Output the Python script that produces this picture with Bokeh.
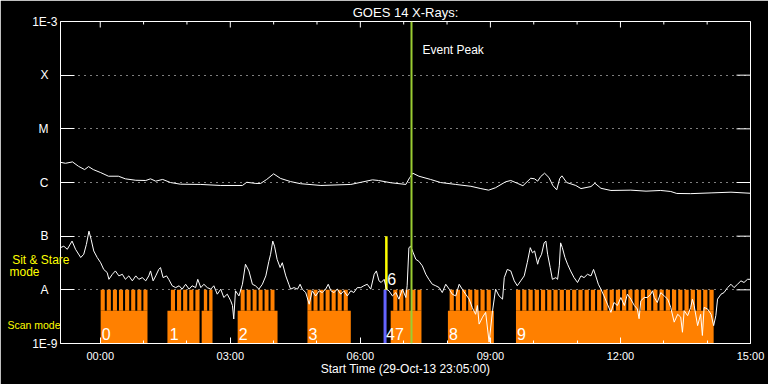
import math
from bokeh.plotting import figure
from bokeh.models import (Range1d, LinearAxis, LogAxis, FixedTicker, Span, Label,
                          LabelSet, ColumnDataSource, Grid)
from bokeh.core.properties import value
from bokeh.embed import file_html
from bokeh.resources import INLINE

# ---------------- data ----------------
# time axis: hours relative to 30-Oct-13 00:00 (plot starts 29-Oct-13 23:05)
hour_ticks = [0, 3, 6, 9, 12, 15]
hour_labels = ["00:00", "03:00", "06:00", "09:00", "12:00", "15:00"]
hour_minor = [1, 2, 4, 5, 7, 8, 10, 11, 13, 14]

class_ticks = [1e-8, 1e-7, 1e-6, 1e-5, 1e-4]
class_labels = ["A", "B", "C", "M", "X"]
edge_ticks = [1e-9, 1e-3]
edge_labels = ["1E-9", "1E-3"]

# GOES 14 long channel (1-8 A), W/m^2
t_long = [-0.92, -0.80, -0.64, -0.50, -0.36, -0.27, -0.16, 0.01, 0.19, 0.42,
          0.58, 0.82, 1.05, 1.16, 1.28, 1.44, 1.62, 1.85, 2.32, 2.78,
          3.28, 3.38, 3.59, 3.70, 3.84, 4.00, 4.16, 4.39, 4.62, 5.09,
          5.78, 6.28, 6.42, 6.70, 7.05, 7.14, 7.21, 7.35, 7.62, 7.85,
          8.20, 8.55, 8.78, 8.96, 9.12, 9.35, 9.47, 9.63, 9.75, 9.93,
          10.02, 10.09, 10.16, 10.25, 10.35, 10.44, 10.53, 10.60, 10.65, 10.76,
          10.97, 11.09, 11.32, 11.41, 11.55, 11.78, 12.24, 12.59, 12.93, 13.16,
          13.30, 13.62, 14.09, 14.55, 15.00]
f_long = [2.38e-6, 2.28e-6, 2.42e-6, 2.00e-6, 1.74e-6, 1.98e-6, 1.74e-6, 1.53e-6, 1.31e-6, 1.31e-6,
          1.17e-6, 1.10e-6, 1.09e-6, 1.17e-6, 1.06e-6, 1.14e-6, 1.00e-6, 9.3e-7, 9.2e-7, 8.8e-7,
          8.8e-7, 1.01e-6, 9.6e-7, 9.6e-7, 1.14e-6, 1.45e-6, 1.19e-6, 1.04e-6, 9.5e-7, 8.8e-7,
          9.2e-7, 1.12e-6, 1.09e-6, 9.9e-7, 9.2e-7, 1.24e-6, 1.49e-6, 1.31e-6, 1.14e-6, 1.00e-6,
          9.2e-7, 8.5e-7, 7.7e-7, 7.2e-7, 8.0e-7, 1.03e-6, 1.09e-6, 9.6e-7, 8.7e-7, 1.20e-6,
          1.17e-6, 1.06e-6, 1.29e-6, 1.49e-6, 1.24e-6, 8.8e-7, 7.3e-7, 1.19e-6, 1.33e-6, 1.00e-6,
          8.8e-7, 7.7e-7, 8.4e-7, 9.7e-7, 7.8e-7, 7.1e-7, 7.2e-7, 6.9e-7, 7.1e-7, 6.8e-7,
          6.25e-7, 6.2e-7, 6.4e-7, 6.6e-7, 6.3e-7]

# GOES 14 short channel (0.5-4 A), W/m^2
t_short = [-0.92, -0.84, -0.76, -0.65, -0.57, -0.45, -0.38, -0.32, -0.26, -0.21,
           -0.15, -0.07, 0.01, 0.08, 0.16, 0.20, 0.28, 0.35, 0.43, 0.51,
           0.58, 0.66, 0.74, 0.82, 0.89, 0.97, 1.05, 1.12, 1.16, 1.22,
           1.28, 1.35, 1.39, 1.45, 1.53, 1.58, 1.66, 1.74, 1.82, 1.89,
           1.97, 2.05, 2.12, 2.20, 2.25, 2.32, 2.39, 2.47, 2.55, 2.62,
           2.70, 2.78, 2.85, 2.93, 3.01, 3.05, 3.08, 3.12, 3.20, 3.28,
           3.35, 3.43, 3.51, 3.58, 3.66, 3.74, 3.82, 3.89, 3.93, 3.98,
           4.02, 4.08, 4.15, 4.20, 4.28, 4.35,
           4.39, 4.47, 4.55, 4.61, 4.66, 4.74, 4.82, 4.89, 4.97, 5.05,
           5.12, 5.20, 5.26, 5.32, 5.39, 5.47, 5.55, 5.62, 5.70, 5.78,
           5.85, 5.93, 6.01, 6.08, 6.16, 6.24, 6.32, 6.37, 6.43, 6.48,
           6.55, 6.60, 6.66, 6.74, 6.82, 6.89, 6.97, 7.05, 7.08, 7.12,
           7.16, 7.22, 7.28, 7.35, 7.43, 7.51, 7.58, 7.66, 7.74, 7.82,
           7.89, 7.97, 8.05, 8.12, 8.20, 8.28, 8.35, 8.43, 8.51, 8.58,
           8.66, 8.70, 8.74, 8.82, 8.89, 8.97, 9.05, 9.12, 9.20, 9.28,
           9.32, 9.39, 9.47, 9.55, 9.62,
           9.70, 9.78, 9.85, 9.92, 9.97, 10.02, 10.09, 10.12, 10.18, 10.24,
           10.28, 10.32, 10.38, 10.43, 10.51, 10.55, 10.59, 10.62, 10.66, 10.72,
           10.78, 10.85, 10.93, 11.01, 11.09, 11.16, 11.24, 11.32, 11.38, 11.43,
           11.49, 11.55, 11.62, 11.70, 11.78, 11.85, 11.93, 12.01, 12.09, 12.16,
           12.24, 12.32, 12.39, 12.43, 12.47, 12.55, 12.62, 12.70, 12.74, 12.78,
           12.85, 12.93, 13.01, 13.09, 13.16, 13.24, 13.32, 13.39, 13.43, 13.47,
           13.55, 13.62, 13.66, 13.70, 13.78, 13.85, 13.89, 13.93, 14.01, 14.09,
           14.15, 14.20, 14.24, 14.32, 14.39, 14.47, 14.55, 14.62, 14.70, 14.78,
           14.85, 14.93, 15.00]
f_short = [6.1e-8, 6.5e-8, 5.7e-8, 8.1e-8, 5.7e-8, 4.0e-8, 4.6e-8, 7.0e-8, 1.24e-7, 8.7e-8,
           5.3e-8, 4.0e-8, 3.2e-8, 2.4e-8, 2.1e-8, 1.57e-8, 1.95e-8, 2.25e-8, 1.82e-8, 1.95e-8,
           1.57e-8, 1.82e-8, 1.47e-8, 1.82e-8, 1.57e-8, 1.69e-8, 1.47e-8, 1.82e-8, 2.25e-8, 1.47e-8,
           1.82e-8, 2.4e-8, 2.6e-8, 1.69e-8, 1.82e-8, 1.57e-8, 1.19e-8, 1.10e-8, 1.19e-8, 1.03e-8,
           1.27e-8, 1.03e-8, 1.19e-8, 1.10e-8, 1.57e-8, 1.10e-8, 1.27e-8, 1.10e-8, 1.03e-8, 1.19e-8,
           8.3e-9, 1.03e-8, 7.2e-9, 8.3e-9, 6.25e-9, 5.1e-9, 2.86e-9, 9.6e-9, 7.7e-9, 1.27e-8,
           3.0e-8, 2.25e-8, 1.27e-8, 1.19e-8, 1.03e-8, 1.27e-8, 1.82e-8, 3.4e-8, 4.6e-8, 8.1e-8,
           6.5e-8, 3.7e-8, 2.6e-8, 3.2e-8, 1.82e-8, 1.27e-8,
           1.03e-8, 1.10e-8, 1.03e-8, 1.27e-8, 1.03e-8, 8.9e-9, 5.4e-9, 9.6e-9, 7.7e-9, 9.6e-9,
           8.9e-9, 1.03e-8, 1.27e-8, 9.6e-9, 8.9e-9, 1.03e-8, 8.3e-9, 9.6e-9, 7.7e-9, 9.6e-9,
           8.9e-9, 1.10e-8, 1.10e-8, 1.19e-8, 1.27e-8, 1.03e-8, 1.95e-8, 2.25e-8, 1.47e-8, 1.37e-8,
           1.57e-8, 1.03e-8, 9.6e-9, 7.7e-9, 8.9e-9, 6.7e-9, 1.03e-8, 7.2e-9, 1.19e-8, 6.1e-8,
           6.5e-8, 4.9e-8, 3.7e-8, 3.4e-8, 2.8e-8, 1.95e-8, 1.57e-8, 1.27e-8, 1.19e-8, 1.10e-8,
           8.9e-9, 1.27e-8, 1.03e-8, 8.3e-9, 7.7e-9, 1.27e-8, 1.03e-8, 8.3e-9, 6.7e-9, 4.7e-9,
           3.5e-9, 5.1e-9, 2.3e-9, 3.1e-9, 3.8e-9, 1.06e-9, 4.1e-9, 1.03e-8, 7.7e-9, 6.7e-9,
           1.69e-8, 2.4e-8, 2.25e-8, 1.47e-8, 1.19e-8,
           1.47e-8, 1.82e-8, 3.2e-8, 6.1e-8, 4.9e-8, 5.3e-8, 3.0e-8, 3.7e-8, 4.6e-8, 7.5e-8,
           8.1e-8, 4.6e-8, 2.6e-8, 1.57e-8, 1.69e-8, 1.57e-8, 2.8e-8, 7.5e-8, 6.1e-8, 4.0e-8,
           3.0e-8, 2.25e-8, 1.69e-8, 1.37e-8, 1.82e-8, 1.69e-8, 1.95e-8, 1.82e-8, 2.4e-8, 1.82e-8,
           1.27e-8, 1.03e-8, 7.7e-9, 5.4e-9, 3.8e-9, 5.8e-9, 5.1e-9, 7.2e-9, 5.1e-9, 8.3e-9,
           6.7e-9, 5.1e-9, 4.4e-9, 2.9e-9, 6.25e-9, 7.2e-9, 7.2e-9, 8.3e-9, 9.6e-9, 7.2e-9,
           5.8e-9, 8.9e-9, 7.7e-9, 6.7e-9, 4.7e-9, 2.5e-9, 3.5e-9, 3.1e-9, 1.62e-9, 4.1e-9,
           3.3e-9, 4.7e-9, 6.7e-9, 5.1e-9, 2.15e-9, 3.5e-9, 1.41e-9, 4.7e-9, 4.4e-9, 3.5e-9,
           2.15e-9, 3.3e-9, 6.7e-9, 8.3e-9, 8.9e-9, 1.10e-8, 1.27e-8, 1.10e-8, 1.27e-8, 1.47e-8,
           1.37e-8, 1.57e-8, 1.57e-8]

# IRIS scan-mode observing blocks (hours)
scan_start = [0.01, 1.55, 2.34, 3.17, 4.78, 6.70, 8.02, 9.59]
scan_end = [1.09, 2.29, 2.59, 4.09, 5.78, 7.41, 9.08, 14.15]
raster_start = [0.01, 1.63, 2.39, 3.24, 4.78, 6.76, 8.06, 9.59]
raster_end = [1.09, 2.29, 2.59, 4.02, 5.71, 7.41, 9.01, 14.15]
raster_count = [8, 5, 2, 6, 7, 5, 7, 32]

obs_labels = ["0", "1", "2", "3", "47", "8", "9"]
obs_label_times = [0.01, 1.58, 3.17, 4.78, 6.57, 8.02, 9.59]

scan_mode_marker = 6.57      # blue
sit_stare_marker = 6.60      # yellow
sit_stare_label = "6"
event_peak = 7.18

# ---------------- styling ----------------
FONT = "Liberation Sans"
ORANGE = "#ff8000"
YELLOW = "#ffff00"
x_start = -55 / 60.0
x_end = 15.0
px_per_hour = 690 / (x_end - x_start)
px_per_decade = 54.0
base_top = 10 ** (-9 + 33 / px_per_decade)      # solid part of scan bars
gap_h = 2.0 / px_per_hour                        # dark gap between raster stripes
y_sit = 10 ** (-8 + 30 / px_per_decade)          # margin text rows
y_sit2 = 10 ** (-8 + 18 / px_per_decade)
y_scan = 10 ** (-8 - 35 / px_per_decade)

p = figure(width=768, height=384,
           x_range=Range1d(x_start, x_end), y_range=Range1d(1e-9, 1e-3),
           y_axis_type="log", x_axis_location=None, y_axis_location=None,
           output_backend="svg", toolbar_location=None,
           background_fill_color="black", border_fill_color="black",
           outline_line_color="white", outline_line_width=1,
           min_border_left=60, min_border_right=18,
           min_border_top=19, min_border_bottom=41)
for g in p.grid:
    g.visible = False

p.title.text = "GOES 14 X-Rays:"
p.title.align = "center"
p.title.text_color = "white"
p.title.text_font = FONT
p.title.text_font_size = "13px"
p.title.text_font_style = "normal"
p.title.standoff = 4

# bottom time axis
xt = FixedTicker(ticks=hour_ticks, minor_ticks=hour_minor)
bottom = LinearAxis(ticker=xt,
                    major_label_overrides=dict(zip(hour_ticks, hour_labels)),
                    axis_line_color="white", major_tick_line_color="white",
                    minor_tick_line_color="white",
                    major_tick_in=6, major_tick_out=0, minor_tick_in=3, minor_tick_out=0,
                    major_label_text_color="white", major_label_text_font=FONT,
                    major_label_text_font_size="11px", major_label_standoff=6,
                    axis_label="Start Time (29-Oct-13 23:05:00)",
                    axis_label_text_color="white", axis_label_text_font=FONT,
                    axis_label_text_font_size="12px", axis_label_text_font_style="normal",
                    axis_label_standoff=-3)
p.add_layout(bottom, "below")


def side_axis(ticks, labels, standoff, color="white", size="12px", line=False):
    ax = LogAxis(ticker=FixedTicker(ticks=ticks, minor_ticks=[]),
                 major_label_overrides=dict(zip(ticks, labels)),
                 axis_line_color="white" if line else None,
                 major_tick_line_color="white" if line else None,
                 minor_tick_line_color=None,
                 major_tick_in=14, major_tick_out=0,
                 major_label_text_color=color, major_label_text_font=FONT,
                 major_label_text_font_size=size, major_label_standoff=standoff)
    p.add_layout(ax, "left")
    return ax


# flare-class letters (innermost, carries the ticks), decade numbers, then mode texts
side_axis(class_ticks, class_labels, 12, line=True)
side_axis(edge_ticks, edge_labels, -22)
side_axis([y_scan], ["Scan mode"], -31, color=YELLOW, size="10.5px")
side_axis([y_sit2], ["mode"], -35, color=YELLOW)
side_axis([y_sit], ["Sit & Stare"], -65, color=YELLOW)

# dotted flare-class grid lines
p.add_layout(Grid(dimension=1, ticker=FixedTicker(ticks=class_ticks),
                  grid_line_color="white", grid_line_dash="1 5", grid_line_width=1))

# ticks on top and right edges
p.ray(x=hour_ticks, y=1e-3, length=6, length_units="screen", angle=-math.pi / 2,
      line_color="white", line_width=1)
p.ray(x=hour_minor, y=1e-3, length=3, length_units="screen", angle=-math.pi / 2,
      line_color="white", line_width=1)
p.ray(x=x_end, y=class_ticks, length=14, length_units="screen", angle=math.pi,
      line_color="white", line_width=1)

# scan-mode blocks
p.quad(left=scan_start, right=scan_end, bottom=1e-9, top=base_top,
       fill_color=ORANGE, line_color=None)
sl, sr = [], []
for s, e, n in zip(raster_start, raster_end, raster_count):
    period = (e - s + gap_h) / n
    for i in range(n):
        sl.append(s + i * period)
        sr.append(s + i * period + period - gap_h)
p.quad(left=sl, right=sr, bottom=base_top, top=1e-8, fill_color=ORANGE, line_color=None)

p.segment(x0=[scan_mode_marker], y0=[1e-9], x1=[scan_mode_marker], y1=[1e-8],
          line_color="#6464ff", line_width=3)
p.segment(x0=[sit_stare_marker], y0=[1e-8], x1=[sit_stare_marker], y1=[1e-7],
          line_color=YELLOW, line_width=2.5)

# GOES curves
p.line(t_long, f_long, line_color="white", line_width=1)
p.line(t_short, f_short, line_color="white", line_width=1)

p.add_layout(Span(location=event_peak, dimension="height", line_color="#9acd32",
                  line_width=2))

# texts inside the plot box
lab_src = ColumnDataSource(dict(x=obs_label_times, y=[1e-9] * len(obs_labels), text=obs_labels))
p.add_layout(LabelSet(x="x", y="y", text="text", source=lab_src, x_offset=1, y_offset=4,
                      text_color="white", text_font=value(FONT), text_font_size="16px",
                      text_baseline="alphabetic"))
p.add_layout(Label(x=sit_stare_marker, y=1e-8, x_offset=1, y_offset=11, text=sit_stare_label,
                   text_color="white", text_font=FONT, text_font_size="16px",
                   text_baseline="alphabetic"))
p.add_layout(Label(x=event_peak, y=1e-3, x_offset=11, y_offset=-28, text="Event Peak",
                   text_color="white", text_font=FONT, text_font_size="12px",
                   text_baseline="alphabetic"))

open("out.html", "w").write(file_html(p, INLINE))
